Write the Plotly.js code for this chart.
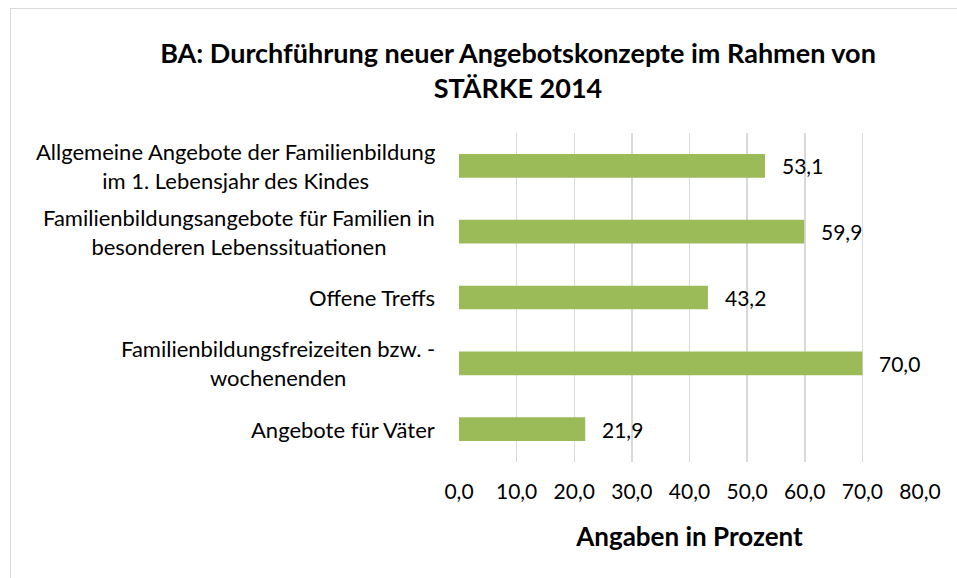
<!DOCTYPE html>
<html>
<head>
<meta charset="utf-8">
<script src="https://cdn.plot.ly/plotly-3.0.1.min.js"></script>
<style>
  html, body { margin: 0; padding: 0; background: #fff; }
  #wrap { position: relative; width: 957px; height: 578px; }
  #chart { position: absolute; left: 0; top: 0; width: 957px; height: 578px; }
  #frame { position: absolute; left: 10px; top: 8px; width: 960px; height: 600px;
           border-left: 1px solid #d9d9d9; border-top: 1px solid #d9d9d9; pointer-events: none; }
</style>
</head>
<body>
<div id="wrap">
  <div id="chart"></div>
  <div id="frame"></div>
</div>
<script>
// Data (top to bottom in the chart)
const categories = [
  "Allgemeine Angebote der Familienbildung<br>im 1. Lebensjahr des Kindes",
  "Familienbildungsangebote für Familien in<br>besonderen Lebenssituationen",
  "Offene Treffs",
  "Familienbildungsfreizeiten bzw. -<br>wochenenden",
  "Angebote für Väter"
];
const values = [53.1, 59.9, 43.2, 70.0, 21.9];
const tickValues = [0, 10, 20, 30, 40, 50, 60, 70, 80];
const tickLabels = ["0,0", "10,0", "20,0", "30,0", "40,0", "50,0", "60,0", "70,0", "80,0"];
const titleText = "BA: Durchführung neuer Angebotskonzepte im Rahmen von<br>STÄRKE 2014";
const axisTitle = "Angaben in Prozent";

const FONT = "Lato, 'Open Sans', sans-serif";
const fmt = v => v.toFixed(1).replace(".", ",");

const trace = {
  type: "bar",
  orientation: "h",
  x: values,
  y: categories,
  marker: { color: "#9bbb59" },
  hoverinfo: "x+y"
};

const annotations = [];
categories.forEach((c, i) => {
  annotations.push({
    xref: "paper", yref: "y", x: 0, y: c,
    xanchor: "right", yanchor: "middle", xshift: -22,
    text: c, showarrow: false, align: "center",
    font: { family: FONT, size: 22, color: "#000" }
  });
  annotations.push({
    xref: "x", yref: "y", x: values[i], y: c,
    xanchor: "left", yanchor: "middle", xshift: 15,
    text: fmt(values[i]), showarrow: false,
    font: { family: FONT, size: 21, color: "#000" }
  });
});

const layout = {
  width: 957, height: 578,
  paper_bgcolor: "#fff", plot_bgcolor: "#fff",
  margin: { l: 459, r: 37, t: 133, b: 116, pad: 0 },
  showlegend: false,
  bargap: 0.64,
  title: {
    text: titleText,
    font: { family: FONT, size: 27, color: "#000", weight: "bold" },
    x: 518 / 957, xanchor: "center", xref: "container",
    y: 1 - 63 / 578, yanchor: "middle", yref: "container"
  },
  xaxis: {
    range: [0, 80],
    tickvals: tickValues,
    ticktext: tickLabels,
    showgrid: true, gridcolor: "#d9d9d9", gridwidth: 1.5,
    zeroline: false, showline: false, ticks: "",
    ticklabelstandoff: 15,
    tickfont: { family: FONT, size: 21, color: "#000" },
    title: {
      text: axisTitle,
      font: { family: FONT, size: 26, color: "#000", weight: "bold" },
      standoff: 25
    },
    automargin: false,
    fixedrange: true
  },
  yaxis: {
    type: "category",
    categoryorder: "array",
    categoryarray: categories.slice().reverse(),
    showticklabels: false,
    showgrid: false, zeroline: false, showline: false, ticks: "",
    automargin: false,
    fixedrange: true
  },
  annotations: annotations
};

Plotly.newPlot("chart", [trace], layout, { displayModeBar: false, staticPlot: true });
</script>
</body>
</html>
